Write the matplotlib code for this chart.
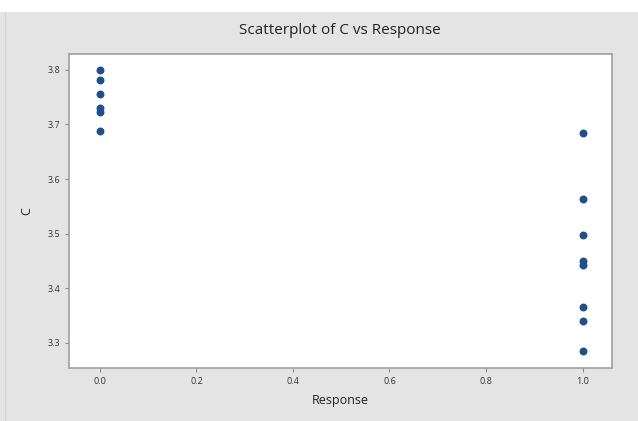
import matplotlib.pyplot as plt
from matplotlib.patches import Rectangle

# values
response_0 = [0, 0, 0, 0, 0, 0]
c_0 = [3.800, 3.782, 3.755, 3.730, 3.723, 3.688]
response_1 = [1, 1, 1, 1, 1, 1, 1, 1]
c_1 = [3.685, 3.563, 3.498, 3.450, 3.442, 3.365, 3.340, 3.285]

x_ticks = [0.0, 0.2, 0.4, 0.6, 0.8, 1.0]
y_ticks = [3.3, 3.4, 3.5, 3.6, 3.7, 3.8]

plt.rcParams['font.family'] = ['Open Sans', 'DejaVu Sans']

fig = plt.figure(figsize=(6.38, 4.21), dpi=100, facecolor='#e4e4e4')
# white strip at the very top (cropped page above the chart)
fig.patches.append(Rectangle((0, 1 - 12 / 421), 1, 12 / 421, transform=fig.transFigure,
                             facecolor='white', edgecolor='none'))
fig.patches.append(Rectangle((5 / 638, 0), 1.5 / 638, 1 - 12 / 421, transform=fig.transFigure,
                             facecolor='#cfcfcf', edgecolor='none'))

ax = fig.add_axes([69 / 638, 1 - 368 / 421, (612 - 69) / 638, (368 - 54) / 421])
ax.set_facecolor('white')

ax.scatter(response_0 + response_1, c_0 + c_1, s=22, color='#1d4f91', zorder=3)

ax.set_xlim(-0.064, 1.061)
ax.set_ylim(3.254, 3.829)
ax.set_xticks(x_ticks)
ax.set_yticks(y_ticks)
ax.set_xticklabels([f'{v:.1f}' for v in x_ticks])
ax.set_yticklabels([f'{v:.1f}' for v in y_ticks])
ax.tick_params(axis='both', labelsize=6.5, colors='#8a8a8a', labelcolor='#333333',
               length=3, width=0.8, direction='out')

for side in ['top', 'right', 'left', 'bottom']:
    ax.spines[side].set_color('#a0a0a0')
    ax.spines[side].set_linewidth(1.2)

ax.set_xlabel('Response', fontsize=9, color='#222222', labelpad=6)
ax.set_ylabel('C', fontsize=9, color='#222222', labelpad=10)
fig.text(340 / 638, 1 - 31 / 421, 'Scatterplot of C vs Response', ha='center', va='center',
         fontsize=11, color='#222222')

fig.savefig('out.png', dpi=100, facecolor=fig.get_facecolor())
